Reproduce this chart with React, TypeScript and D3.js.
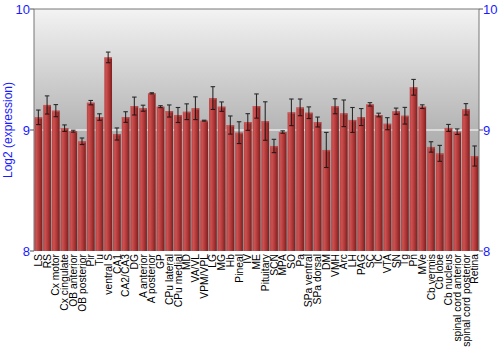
import React from "react";
import * as d3 from "d3";

const categories: string[] = [
  "LS", "RS", "Cx motor", "Cx cingulate", "OB anterior", "OB posterior", "Pir", "Tu",
  "ventral S", "CA1", "CA2/CA3", "DG", "A anterior", "A posterior", "GP", "CPu lateral",
  "CPu medial", "MD", "VA/VL", "VPM/VPL", "LG", "MG", "Hb", "Pineal", "IV", "ME",
  "Pituitary", "SCN", "MPA", "SO", "Pa", "SPa ventral", "SPa dorsal", "DM", "VMH", "Arc",
  "LH", "PAG", "SC", "IC", "VTA", "SN", "Tg", "Pn", "MVe", "Cb vermis", "Cb lobe",
  "Cb nucleus", "spinal cord anterior", "spinal cord posterior", "Retina",
];

const values: number[] = [
  9.105, 9.207, 9.16, 9.015, 8.99, 8.907, 9.226, 9.107,
  9.6, 8.967, 9.107, 9.198, 9.18, 9.303, 9.193, 9.157,
  9.124, 9.151, 9.18, 9.077, 9.264, 9.193, 9.041, 8.978, 9.066, 9.198,
  9.074, 8.868, 8.983, 9.146, 9.187, 9.143, 9.066, 8.835, 9.196, 9.138,
  9.083, 9.107, 9.212, 9.124, 9.052, 9.155, 9.118, 9.353, 9.193, 8.86, 8.807,
  9.017, 8.986, 9.171, 8.785,
];

const errors: number[] = [
  0.06, 0.075, 0.05, 0.027, 0.008, 0.027, 0.018, 0.027,
  0.044, 0.05, 0.044, 0.074, 0.025, 0.005, 0.008, 0.05,
  0.062, 0.065, 0.094, 0.004, 0.094, 0.039, 0.075, 0.09, 0.069, 0.1,
  0.159, 0.055, 0.01, 0.11, 0.069, 0.048, 0.041, 0.145, 0.062, 0.11,
  0.103, 0.07, 0.014, 0.015, 0.05, 0.026, 0.069, 0.065, 0.015, 0.043, 0.066,
  0.029, 0.023, 0.047, 0.083,
];

const yTicks: number[] = [8, 9, 10];
const yTitle = "Log2 (expression)";

export default function App() {
  const W = 500, H = 350;
  const left = 34, right = 479, top = 9, bottom = 251;
  const x = d3.scaleBand<string>().domain(categories).range([left, right]).paddingInner(0.12).paddingOuter(0.06);
  const y = d3.scaleLinear().domain([8, 10]).range([bottom, top]);
  const blue = "#1a1aff";
  const font = "'Liberation Sans', Arial, sans-serif";
  const bw = x.bandwidth();
  const capW = Math.min(4.5, bw * 0.6);

  return (
    <svg width={W} height={H} style={{ position: "absolute", left: 0, top: 0, background: "#fff" }} fontFamily={font}>
      <defs>
        <linearGradient id="bg" x1="0" y1="0" x2="0" y2="1">
          <stop offset="0%" stopColor="#f3f3f3" />
          <stop offset="50%" stopColor="#b4b4b4" />
          <stop offset="100%" stopColor="#8a8a8a" />
        </linearGradient>
        <linearGradient id="bar" x1="0" y1="0" x2="1" y2="0">
          <stop offset="0%" stopColor="#b84444" />
          <stop offset="25%" stopColor="#cc5050" />
          <stop offset="60%" stopColor="#b03838" />
          <stop offset="100%" stopColor="#7e1e1e" />
        </linearGradient>
      </defs>
      <rect x={left} y={top} width={right - left} height={bottom - top} fill="url(#bg)" />
      <line x1={left} x2={right} y1={y(9)} y2={y(9)} stroke="#fff" strokeWidth={1.2} />
      {categories.map((c, i) => {
        const bx = x(c)!;
        const by = y(values[i]);
        return (
          <g key={c}>
            <rect x={bx} y={by} width={bw} height={bottom - by} fill="url(#bar)" />
            <rect x={bx} y={by} width={bw} height={1.5} fill="#d06060" opacity={0.6} />
          </g>
        );
      })}
      {categories.map((c, i) => {
        const cx = x(c)! + bw / 2;
        const y1 = y(values[i] + errors[i]);
        const y2 = y(values[i] - errors[i]);
        return (
          <g key={"e" + c} stroke="#111" strokeWidth={1.1} opacity={0.85}>
            <line x1={cx} x2={cx} y1={y1} y2={y2} />
            <line x1={cx - capW / 2} x2={cx + capW / 2} y1={y1} y2={y1} />
            <line x1={cx - capW / 2} x2={cx + capW / 2} y1={y2} y2={y2} />
          </g>
        );
      })}
      <line x1={left} x2={right} y1={top} y2={top} stroke="#777" />
      <line x1={left} x2={left} y1={top} y2={bottom} stroke="#777" />
      <line x1={right} x2={right} y1={top} y2={bottom} stroke="#777" />
      {yTicks.map((t) => (
        <g key={"t" + t}>
          <line x1={left - 4} x2={left} y1={y(t)} y2={y(t)} stroke="#555" />
          <line x1={right} x2={right + 4} y1={y(t)} y2={y(t)} stroke="#555" />
          <text x={left - 4} y={y(t)} dy="0.36em" textAnchor="end" fontSize={13} fill={blue}>{t}</text>
          <text x={right + 4} y={y(t)} dy="0.36em" textAnchor="start" fontSize={13} fill={blue}>{t}</text>
        </g>
      ))}
      <text transform={`translate(12,${(top + bottom) / 2}) rotate(-90)`} textAnchor="middle" fontSize={12} fill={blue}>{yTitle}</text>
      {categories.map((c) => (
        <text
          key={"l" + c}
          transform={`translate(${x(c)! + bw / 2},${bottom + 3}) rotate(-90)`}
          textAnchor="end"
          dy="0.35em"
          fontSize={10.3}
          fill="#000"
        >
          {c}
        </text>
      ))}
    </svg>
  );
}
